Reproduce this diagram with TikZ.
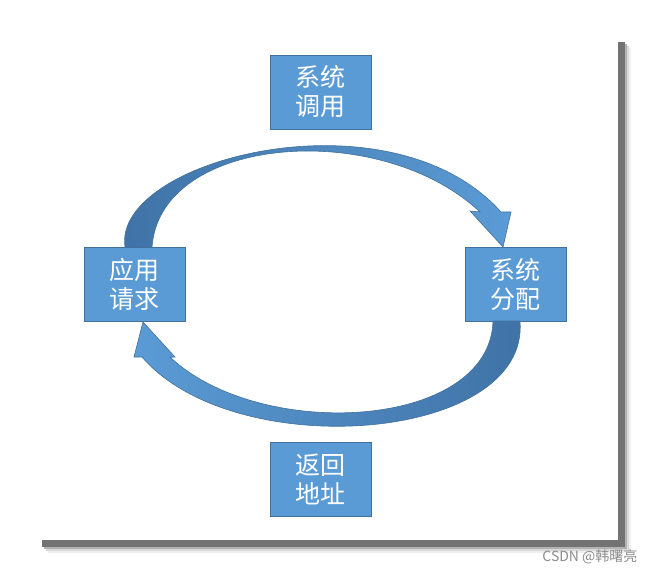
\documentclass[tikz,border=0pt]{standalone}
\usepackage{fontspec}
\newfontfamily\cjk{Noto Sans CJK SC}
\definecolor{boxfill}{HTML}{5B9BD5}
\definecolor{boxline}{HTML}{41719C}
\definecolor{arcdark}{HTML}{3F72A6}
\begin{document}
\begin{tikzpicture}[x=1pt,y=-1pt,
  bx/.style={draw=boxline,fill=boxfill,minimum width=101pt,minimum height=74pt,inner sep=0pt,text=white,align=center,font=\cjk\fontsize{25}{29}\selectfont}]
\useasboundingbox (0,0) rectangle (654,575);
\fill[white] (0,0) rectangle (654,575);
\foreach \o/\c in {13/6,11/15,9/30,7/55}{
  \fill[black!\c] (35+\o,35+\o) rectangle (618+\o,540+\o);}
\fill[white] (35,35) rectangle (618,540);
\node[bx] (top) at (320.5,92) {系统\\调用};
\node[bx] (left) at (134.5,284) {应用\\请求};
\node[bx] (right) at (515.5,284) {系统\\分配};
\node[bx] (bot) at (320.5,479) {返回\\地址};
% top arc
\shade[left color=arcdark,right color=boxfill,draw=boxline,line width=0.6pt]
 (125,247) .. controls (112,160) and (390,88) .. (501,212)
 -- (511,212) -- (503,247) -- (470,211) -- (480,212)
 .. controls (380,118) and (160,135) .. (152,247) -- cycle;
% bottom arc
\shade[left color=boxfill,right color=arcdark,draw=boxline,line width=0.6pt]
 (520,321) .. controls (530,442) and (235,465) .. (142,357)
 -- (134,357) -- (143,322) -- (175,357) -- (170,357)
 .. controls (260,442) and (490,430) .. (493,321) -- cycle;
\node[text=black!45,font=\cjk\fontsize{14}{16}\selectfont,anchor=east] (wm) at (641,557) {CSDN @韩曙亮};
\end{tikzpicture}
\end{document}
